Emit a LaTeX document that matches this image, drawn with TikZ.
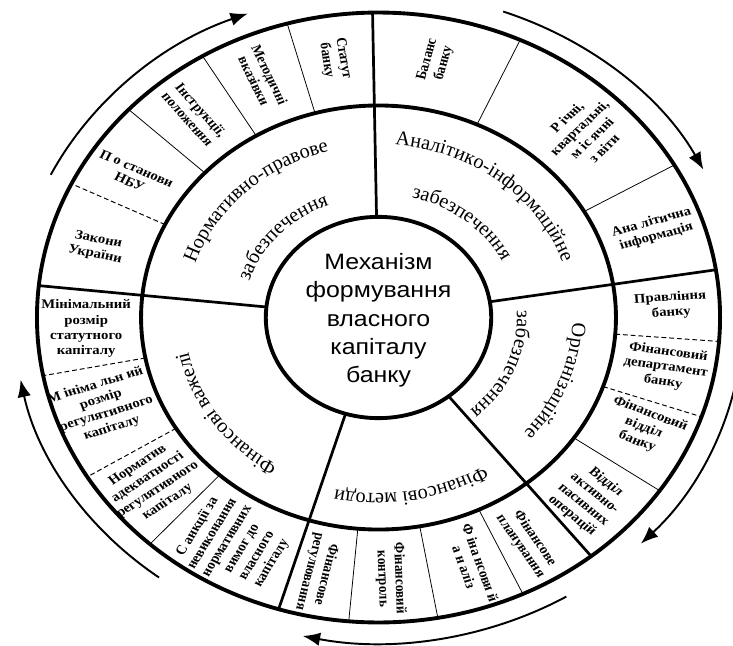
\documentclass[tikz,border=0pt]{standalone}
\usepackage{fontspec}
\setmainfont{Liberation Serif}
\newfontfamily\corefont{Liberation Sans}
\usetikzlibrary{arrows.meta, decorations.text}

\tikzset{
  ring/.style={line width=2pt},
  spoke/.style={line width=1.4pt},
  part/.style={line width=0.4pt},
  partdash/.style={line width=0.5pt, dash pattern=on 2.5pt off 1.5pt},
  flow/.style={line width=1pt, -{Latex[length=9pt, width=7pt]}},
  item/.style={font=\bfseries\fontsize{6.8}{7.8}\selectfont, align=center, inner sep=0pt},
  arctext/.style={decorate, decoration={text along path, text align=center,
    text={|\fontsize{10.5}{12}\selectfont|#1}}}
}

\begin{document}
\begin{tikzpicture}[xscale=1.12, every node/.style={transform shape}]
\useasboundingbox (-6.145,-5.955) rectangle (5.755,5.773);
\draw[ring] (0,0) circle (5.545);
\draw[ring] (0,0) circle (3.855);
\draw[ring] (0,0) circle (1.83);
\foreach \a in {91,9,-51.5,-107,174}
  \draw[spoke] (\a:1.83) -- (\a:5.545);
\foreach \a in {105.5,121,137,30,65.5,-34.6,-65,-80,-95,228}
  \draw[part] (\a:3.855) -- (\a:5.545);
\foreach \a in {154,-4.5,-19,191,211.5}
  \draw[partdash] (\a:3.855) -- (\a:5.545);
\foreach \s/\e in {154/111,70/27,-5/-44,-59/-102,233/191}
  \draw[flow] (\s:5.92) arc[start angle=\s, end angle=\e, radius=5.92];

\node[font=\corefont\fontsize{11.5}{14.5}\selectfont, align=center] (core) at (0,-0.05)
  {Механізм\\формування\\власного\\капіталу\\банку};

\path[arctext=Нормативно-правове] (174:3.13) arc[start angle=174, end angle=94, radius=3.13];
\path[arctext=забезпечення] (172:2.2) arc[start angle=172, end angle=103, radius=2.2];
\path[arctext=Аналітико-інформаційне] (91:3.15) arc[start angle=91, end angle=12, radius=3.15];
\path[arctext=забезпечення] (86:2.25) arc[start angle=86, end angle=16, radius=2.25];
\path[arctext=Організаційне] (5:3.15) arc[start angle=5, end angle=-48, radius=3.15];
\path[arctext=забезпечення] (12:2.25) arc[start angle=12, end angle=-57, radius=2.25];
\path[arctext=Фінансові методи] (-45:3.2) arc[start angle=-45, end angle=-115, radius=3.2];
\path[arctext=Фінансові важелі] (250:3.15) arc[start angle=250, end angle=179, radius=3.15];

\foreach \a/\r/\t [count=\i] in {
  98.6/-81.4/{Статут\\банку},
  113.5/-66.5/{Методичні\\вказівки},
  129/-51/{Інструкції,\\положення},
  147/-25/{П о станови\\НБУ},
  164.4/-12/{Закони\\України},
  182.4/0/{Мінімальний\\розмір\\статутного\\капіталу},
  200/19/{М ініма льн ий\\розмір\\регулятивного\\капіталу},
  219.5/36/{Норматив\\адекватності\\регулятивного\\капіталу},
  240.5/61/{С анкції за\\невиконання\\нормативних\\вимог до\\власного\\капіталу},
  -102/-103/{Фінансове\\регулювання},
  -87.6/-88/{Фінансовий\\контроль},
  -71.3/-72/{Ф іна нсови й\\а н аліз},
  -59.4/-58/{Фінансове\\планування},
  -44/-42/{Відділ\\активно-\\пасивних\\операцій},
  -25/-23/{Фінансовий\\відділ\\банку},
  -11/-9/{Фінансовий\\департамент\\банку},
  2.7/4/{Правління\\банку},
  19.7/17/{Ана літична\\інформація},
  45/47/{Р ічні,\\квартальні,\\м іс ячні\\з віти},
  78.7/76/{Баланс\\банку}}
  \node[item, rotate=\r] (item\i) at (\a:4.75) {\t};
\end{tikzpicture}
\end{document}
